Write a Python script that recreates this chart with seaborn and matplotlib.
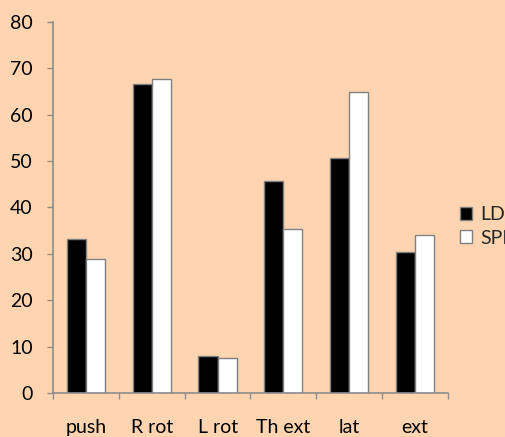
import matplotlib
matplotlib.use("Agg")
import matplotlib.pyplot as plt
import seaborn as sns
import pandas as pd
from matplotlib.patches import Patch

categories = ["push", "R rot", "L rot", "Th ext", "lat", "ext"]
ld_values = [33.1, 66.7, 8.0, 45.8, 50.6, 30.5]
spi_values = [28.8, 67.6, 7.5, 35.3, 64.9, 34.1]
series = ["LD", "SPI"]

df = pd.DataFrame({
    "cat": categories * 2,
    "val": ld_values + spi_values,
    "serie": [series[0]] * len(categories) + [series[1]] * len(categories),
})

bg = "#FFD5B1"
sns.set_theme(style="white")
plt.rcParams["font.family"] = ["Lato", "DejaVu Sans"]

fig = plt.figure(figsize=(5.05, 4.37), dpi=100, facecolor=bg)
ax = fig.add_axes([0.105, 0.1007, 0.782, 0.849])
ax.set_facecolor(bg)

sns.barplot(data=df, x="cat", y="val", hue="serie", order=categories,
            hue_order=series, palette=["black", "white"], width=0.58,
            edgecolor="#808080", linewidth=1, ax=ax, legend=False)

ax.set_ylim(0, 80)
ax.set_yticks(range(0, 81, 10))
ax.set_xlim(-0.5, len(categories) - 0.5)
ax.set_xticks([i - 0.5 for i in range(len(categories) + 1)], minor=True)
ax.set_xlabel(""); ax.set_ylabel("")

for s in ["top", "right"]:
    ax.spines[s].set_visible(False)
for s in ["left", "bottom"]:
    ax.spines[s].set_color("#8c8c8c")
    ax.spines[s].set_linewidth(1.2)

ax.tick_params(axis="y", direction="out", length=4.5, width=1, color="#8c8c8c",
               labelsize=14, pad=10, left=True, labelcolor="black")
ax.tick_params(axis="x", which="major", length=0, labelsize=14, pad=19,
               labelcolor="black")
ax.tick_params(axis="x", which="minor", direction="out", length=4.5, width=1,
               color="#8c8c8c", bottom=True)

handles = [Patch(facecolor="black", edgecolor="#808080", label=series[0]),
           Patch(facecolor="white", edgecolor="#808080", label=series[1])]
fig.legend(handles=handles, loc="center left", bbox_to_anchor=(0.895, 0.482),
           frameon=False, fontsize=14, handlelength=0.65, handleheight=0.65,
           handletextpad=0.4, labelspacing=0.35, borderaxespad=0)

fig.savefig("out.png", dpi=100, facecolor=bg)
